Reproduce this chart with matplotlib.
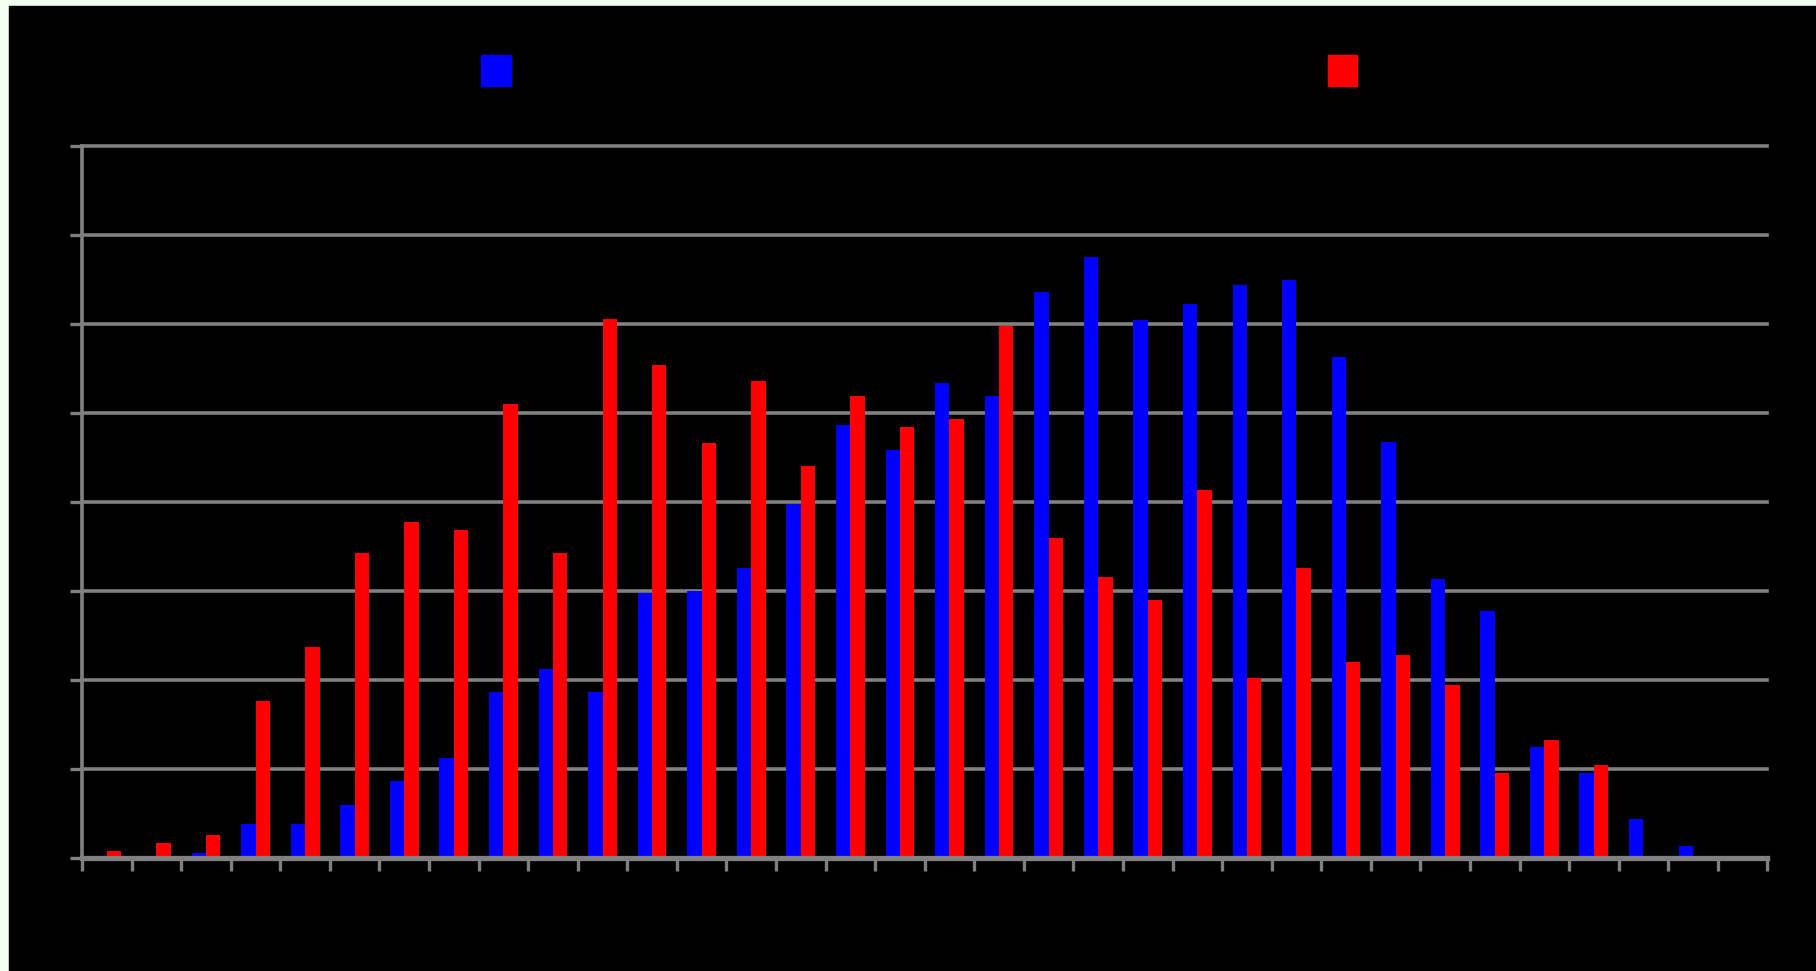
import matplotlib
matplotlib.use('Agg')
import matplotlib.pyplot as plt
from matplotlib.patches import Patch, Rectangle
import numpy as np

# ─── data (one unit = one gridline) ───────────────────────────────────────────

categories = list(range(1, 35))
blue_vals = [0.00, 0.00, 0.06, 0.38, 0.38, 0.60, 0.86, 1.12, 1.87, 2.12,
             1.87, 2.98, 3.00, 3.26, 3.98, 4.86, 4.58, 5.34, 5.19, 6.36,
             6.75, 6.05, 6.23, 6.44, 6.49, 5.63, 4.67, 3.13, 2.78, 1.25,
             0.96, 0.44, 0.13, 0.00]
red_vals = [0.08, 0.17, 0.26, 1.76, 2.37, 3.43, 3.78, 3.69, 5.10, 3.43,
            6.06, 5.54, 4.66, 5.36, 4.40, 5.19, 4.84, 4.93, 5.98, 3.60,
            3.16, 2.90, 4.14, 2.02, 3.26, 2.20, 2.28, 1.94, 0.96, 1.33,
            1.05, 0.00, 0.00, 0.00]
y_ticks = list(range(0, 9))

# ─── figure ───────────────────────────────────────────────────────────────────

fig = plt.figure(figsize=(18.16, 9.71), dpi=100, facecolor='#f0fff0')
fig.patches.append(Rectangle((9 / 1816, 0), 1, 1 - 6 / 971,
                             transform=fig.transFigure, color='black', zorder=-10))

ax = fig.add_axes([0.0452, 0.1164, 0.928, 0.7332])
ax.set_facecolor('black')

x = np.arange(len(categories)) + 0.5
w = 0.29
ax.bar(x - w / 2, blue_vals, width=w, color='#0000ff', zorder=3)
ax.bar(x + w / 2, red_vals, width=w, color='#ff0000', zorder=3)

ax.set_xlim(0, len(categories))
ax.set_ylim(0, 8)
ax.set_xticks(np.arange(len(categories) + 1))
ax.set_yticks(y_ticks)
ax.tick_params(axis='both', colors='#808080', labelleft=False, labelbottom=False)
ax.tick_params(axis='x', length=9.5, width=2.4)
ax.tick_params(axis='y', length=8.5, width=2.4)

ax.grid(axis='y', color='#808080', linewidth=2.6, zorder=1)
ax.set_axisbelow(True)
for line in ax.get_ygridlines():
    line.set_clip_on(False)

for side in ['top', 'right']:
    ax.spines[side].set_visible(False)
ax.spines['left'].set_color('#808080')
ax.spines['left'].set_linewidth(2.6)
ax.spines['bottom'].set_color('#808080')
ax.spines['bottom'].set_linewidth(3.8)
ax.spines['bottom'].set_zorder(4)

handles = [Patch(color='#0000ff'), Patch(color='#ff0000')]
fig.legend(handles=handles, labels=['', ''], ncol=2, loc='center',
           bbox_to_anchor=(0.5132, 0.926), frameon=False, fontsize=23,
           handlelength=0.93, handleheight=1.08, handletextpad=0.8,
           columnspacing=24.77)

plt.savefig('out.png', dpi=100, facecolor=fig.get_facecolor())
plt.close()
